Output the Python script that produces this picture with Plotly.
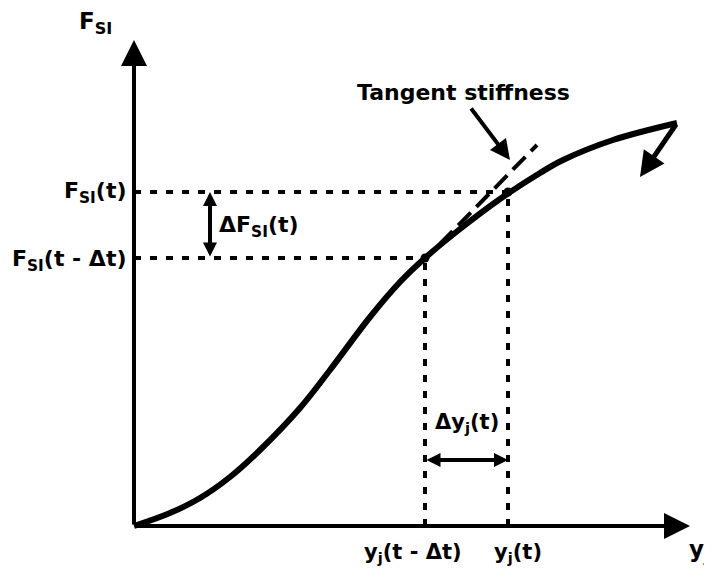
import plotly.graph_objects as go

# Schematic force-displacement curve (origin at the axes corner)
curve_x = [0, 36, 66, 96, 126, 166, 196, 236, 266, 291, 326, 366, 406, 429, 479, 543]
curve_y = [0, 13, 28, 49, 76, 118, 156, 209, 244, 268, 297, 327, 353, 366, 386, 403]
hook_end = (506, 349)

# Characteristic points
y_prev, F_prev = 291, 268   # y_j(t - Δt), F_SI(t - Δt)
y_now, F_now = 374, 334     # y_j(t), F_SI(t)
tangent_x = [306, 403]
tangent_y = [282, 381]

FONT = "DejaVu Sans"
fig = go.Figure()

# main curve
fig.add_trace(go.Scatter(x=curve_x, y=curve_y, mode="lines",
                         line=dict(color="black", width=6, shape="spline", smoothing=1.0),
                         hoverinfo="skip"))
# dashed guide lines
dash = dict(color="black", width=4, dash="7px,9px")
fig.add_trace(go.Scatter(x=[0, y_now], y=[F_now, F_now], mode="lines", line=dash))
fig.add_trace(go.Scatter(x=[0, y_prev], y=[F_prev, F_prev], mode="lines", line=dash))
fig.add_trace(go.Scatter(x=[y_prev, y_prev], y=[0, F_prev], mode="lines", line=dash))
fig.add_trace(go.Scatter(x=[y_now, y_now], y=[0, F_now], mode="lines", line=dash))
# tangent line
fig.add_trace(go.Scatter(x=tangent_x, y=tangent_y, mode="lines",
                         line=dict(color="black", width=4, dash="18px,8px")))
# points
fig.add_trace(go.Scatter(x=[y_prev, y_now], y=[F_prev, F_now], mode="markers",
                         marker=dict(color="black", size=9)))

def arrow(x0, y0, x1, y1, width=4, size=1.0, head=2, side="end"):
    fig.add_annotation(x=x1, y=y1, ax=x0, ay=y0, xref="x", yref="y", axref="x", ayref="y",
                       text="", showarrow=True, arrowhead=head, arrowsize=size,
                       arrowwidth=width, arrowcolor="black", arrowside=side,
                       startarrowhead=head, startarrowsize=size)

# axes
arrow(0, 0, 0, 486, width=4, size=1.3)
arrow(0, 0, 556, 0, width=4, size=1.3)
# hook at curve end
arrow(curve_x[-1], curve_y[-1], hook_end[0], hook_end[1], width=5, size=1.0)
# ΔF bracket
arrow(76, F_prev, 76, F_now, width=4, size=0.7, side="end+start")
# Δy arrow
arrow(y_prev, 66, y_now, 66, width=4, size=0.7, side="end+start")
# leader arrow for tangent stiffness
arrow(336, 419, 376, 366, width=4, size=1.0)

def label(x, y, text, xanchor="center", size=22):
    fig.add_annotation(x=x, y=y, xref="x", yref="y", text="<b>" + text + "</b>",
                       showarrow=False, xanchor=xanchor, yanchor="middle",
                       font=dict(family=FONT, size=size, color="black"))

label(-57, 503, "F<sub>SI</sub>", xanchor="left", size=23)
label(-6, F_now, "F<sub>SI</sub>(t)", xanchor="right", size=22)
label(-6, F_prev - 2, "F<sub>SI</sub>(t - Δt)", xanchor="right", size=22)
label(83, 300, "ΔF<sub>SI</sub>(t)", xanchor="left", size=22)
label(329, 434, "Tangent stiffness", size=22)
label(333, 103, "Δy<sub>j</sub>(t)", size=21)
label(279, -27, "y<sub>j</sub>(t - Δt)", size=21)
label(384, -27, "y<sub>j</sub>(t)", size=21)
label(553, -25, "y<sub>j</sub>", xanchor="left", size=23)

# page body has an 8px margin: figure covers reference pixels 8..712 x 8..578
fig.update_layout(
    width=704, height=570, margin=dict(l=0, r=0, t=0, b=0),
    paper_bgcolor="white", plot_bgcolor="white", showlegend=False,
    xaxis=dict(range=[-126, 578], visible=False, fixedrange=True),
    yaxis=dict(range=[-52, 518], visible=False, fixedrange=True),
)
fig.write_html("out.html")
